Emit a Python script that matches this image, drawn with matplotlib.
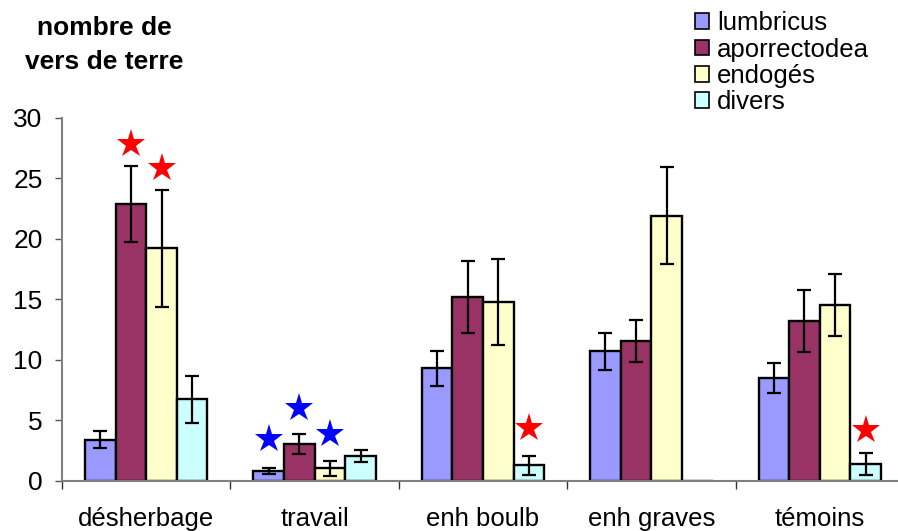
import numpy as np
import matplotlib.pyplot as plt
from matplotlib.patches import Patch

plt.rcParams['font.family'] = ['Liberation Sans', 'DejaVu Sans']

# Data
categories = ['désherbage', 'travail', 'enh boulb', 'enh graves', 'témoins']
series = ['lumbricus', 'aporrectodea', 'endogés', 'divers']
colors = ['#9999FF', '#993366', '#FFFFCC', '#CCFFFF']

means = [
    [3.4, 0.85, 9.3, 10.7, 8.5],     # lumbricus
    [22.85, 3.05, 15.2, 11.55, 13.2],  # aporrectodea
    [19.2, 1.05, 14.75, 21.9, 14.55],  # endogés
    [6.75, 2.05, 1.3, 0.0, 1.4],     # divers
]
errors = [
    [0.7, 0.25, 1.45, 1.5, 1.27],
    [3.15, 0.8, 2.95, 1.75, 2.55],
    [4.8, 0.6, 3.55, 4.0, 2.55],
    [1.95, 0.5, 0.77, 0.0, 0.87],
]

# significance stars: (category index, series index, y value, colour)
star_cat = [0, 0, 1, 1, 1, 2, 4]
star_ser = [1, 2, 0, 1, 2, 3, 3]
star_y = [27.8, 25.8, 3.45, 6.05, 3.85, 4.35, 4.2]
star_col = ['red', 'red', 'blue', 'blue', 'blue', 'red', 'red']

fig = plt.figure(figsize=(8.98, 5.31), dpi=100)
ax = fig.add_axes([62 / 898, 50 / 531, 842 / 898, 363.5 / 531])

x = np.arange(len(categories)) + 0.5
w = 0.182
for j, name in enumerate(series):
    pos = x + (j - 1.5) * w
    ax.bar(pos, means[j], width=w, color=colors[j], edgecolor='black',
           linewidth=1.7, zorder=2)
    err = np.array(errors[j])
    m = np.array(means[j])
    mask = err > 0
    ax.errorbar(pos[mask], m[mask], yerr=err[mask], fmt='none', ecolor='black',
                elinewidth=1.6, capsize=4.8, capthick=1.6, zorder=3)

for c, s, yv, col in zip(star_cat, star_ser, star_y, star_col):
    ax.plot(x[c] + (s - 1.5) * w, yv, marker='*', color=col, markersize=21,
            markeredgewidth=0, linestyle='none', zorder=4)

ax.set_xlim(0, 5)
ax.set_ylim(0, 30)
ax.set_yticks([0, 5, 10, 15, 20, 25, 30])
ax.tick_params(axis='y', direction='out', length=5, width=1, colors='#555555',
               labelcolor='black', labelsize=19, pad=9)
ax.set_xticks(x)
ax.set_xticklabels(categories)
ax.set_xticks(np.arange(6), minor=True)
ax.tick_params(axis='x', which='major', length=0, labelsize=18.5, pad=19)
ax.tick_params(axis='x', which='minor', direction='out', length=6, width=1,
               colors='#333333')
for side in ['top', 'right']:
    ax.spines[side].set_visible(False)
for side in ['left', 'bottom']:
    ax.spines[side].set_color('#808080')
    ax.spines[side].set_linewidth(1.5)

fig.text(104 / 898, 1 - 28 / 531, 'nombre de', ha='center', va='center',
         fontsize=19, fontweight='bold')
fig.text(104 / 898, 1 - 62 / 531, 'vers de terre', ha='center', va='center',
         fontsize=19, fontweight='bold')

handles = [Patch(facecolor=c, edgecolor='black', linewidth=1.2) for c in colors]
fig.legend(handles, series, loc='upper left', bbox_to_anchor=(685 / 898, 1 - 1 / 531),
           frameon=False, fontsize=18.5, handlelength=0.55, handleheight=0.55,
           handletextpad=0.3, labelspacing=0.09, borderaxespad=0)

fig.savefig('out.png', dpi=100)
